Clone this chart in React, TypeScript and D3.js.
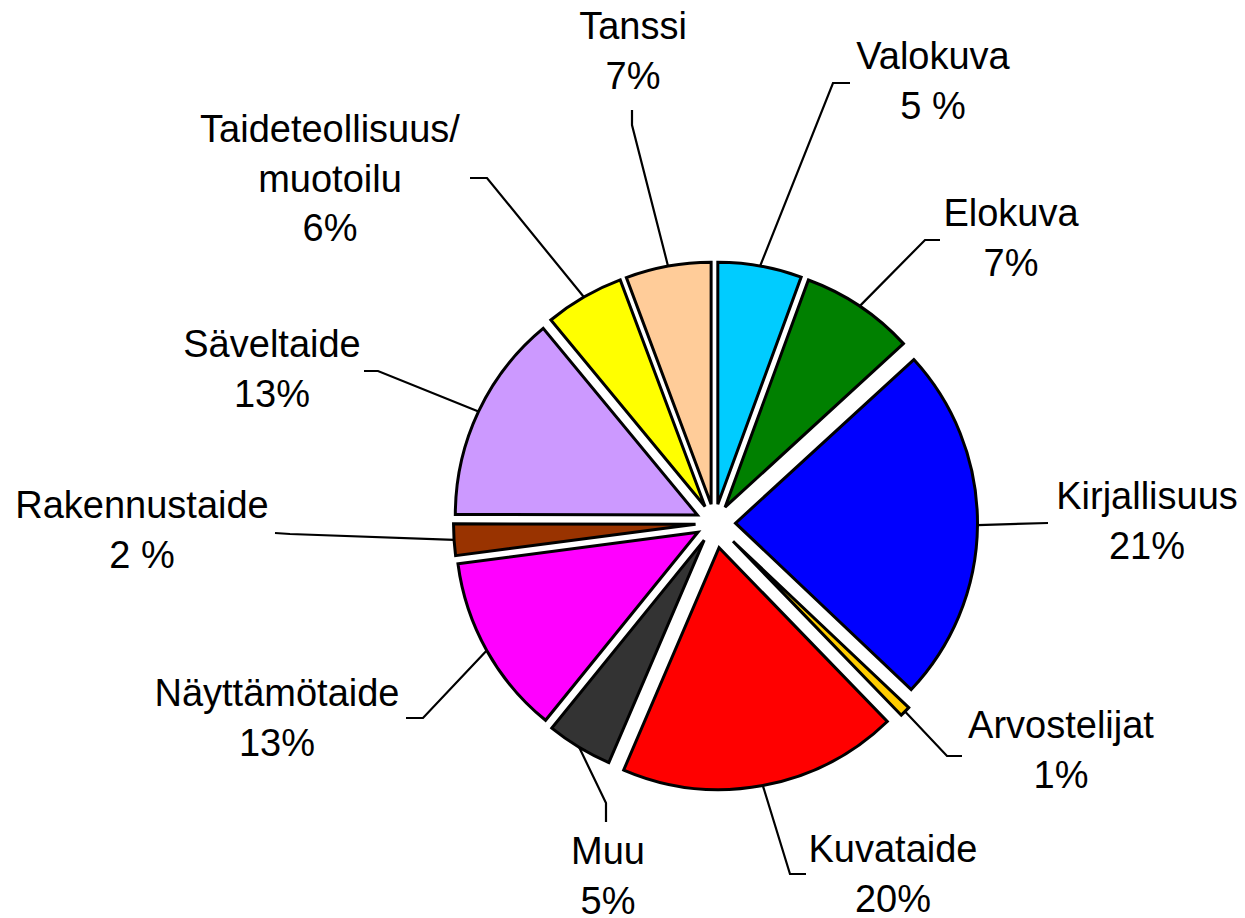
import React from 'react';
import * as d3 from 'd3';

// Data (clockwise from 12 o'clock)
const categories = [
  'Valokuva',
  'Elokuva',
  'Kirjallisuus',
  'Arvostelijat',
  'Kuvataide',
  'Muu',
  'Näyttämötaide',
  'Rakennustaide',
  'Säveltaide',
  'Taideteollisuus/|muotoilu',
  'Tanssi',
];
// shares as drawn (slice angles, percent of the full circle)
const shares = [5.6, 7.6, 23.9, 0.7, 18.7, 4.4, 12.1, 2.1, 14.0, 5.3, 5.7];
// percent texts as printed on the chart
const percentLabels = ['5 %', '7%', '21%', '1%', '20%', '5%', '13%', '2 %', '13%', '6%', '7%'];
const colors = [
  '#00CCFF',
  '#008000',
  '#0000FF',
  '#FFCC00',
  '#FF0000',
  '#333333',
  '#FF00FF',
  '#993300',
  '#CC99FF',
  '#FFFF00',
  '#FFCC99',
];

// Layout
const W = 1245;
const H = 918;
const CX = 714.5;
const CY = 523;
const R = 242;
const explode = [19, 19, 21, 26, 25, 20, 19, 19, 19, 19, 19];
const FONT = 38;
const LINE = 49.5;
// label text position (centre x, first baseline y), leader elbow and end
const labelLayout: { x: number; y: number; elbow: [number, number]; end: [number, number] }[] = [
  { x: 933, y: 69, elbow: [833, 83], end: [850, 83] },
  { x: 1011, y: 226, elbow: [925, 240], end: [940, 240] },
  { x: 1147, y: 509, elbow: [1048, 523], end: [1048, 523] },
  { x: 1061, y: 738, elbow: [947, 756], end: [962, 756] },
  { x: 893, y: 862, elbow: [790, 874], end: [806, 874] },
  { x: 608, y: 864, elbow: [606, 803], end: [606, 822] },
  { x: 277, y: 706, elbow: [423, 718], end: [406, 718] },
  { x: 142, y: 518, elbow: [290, 534], end: [275, 533] },
  { x: 272, y: 357, elbow: [378, 371], end: [364, 371] },
  { x: 330, y: 142, elbow: [487, 178], end: [470, 178] },
  { x: 633, y: 39, elbow: [632, 125], end: [632, 110] },
];

export default function App() {
  const pie = d3
    .pie<number>()
    .value((d) => d)
    .sort(null)
    .startAngle(0)
    .endAngle(2 * Math.PI);
  const arcs = pie(shares);
  const arcGen = d3.arc<d3.PieArcDatum<number>>().innerRadius(0).outerRadius(R);
  const line = d3.line();

  return (
    <svg
      width={W}
      height={H}
      viewBox={`0 0 ${W} ${H}`}
      style={{ position: 'absolute', left: 0, top: 0, background: '#fff' }}
      fontFamily="'Liberation Sans', Arial, sans-serif"
    >
      <rect x={0} y={0} width={W} height={H} fill="#fff" />
      {arcs.map((a, i) => {
        const mid = (a.startAngle + a.endAngle) / 2;
        const dx = explode[i] * Math.sin(mid);
        const dy = -explode[i] * Math.cos(mid);
        return (
          <path
            key={'s' + i}
            d={arcGen(a) || ''}
            transform={`translate(${CX + dx},${CY + dy})`}
            fill={colors[i]}
            stroke="#000"
            strokeWidth={3}
            strokeLinejoin="miter"
          />
        );
      })}
      {arcs.map((a, i) => {
        const mid = (a.startAngle + a.endAngle) / 2;
        const rr = R + explode[i];
        const sx = CX + rr * Math.sin(mid);
        const sy = CY - rr * Math.cos(mid);
        const L = labelLayout[i];
        const pts: [number, number][] = [[sx, sy], L.elbow, L.end];
        return (
          <path
            key={'l' + i}
            d={line(pts) || ''}
            fill="none"
            stroke="#000"
            strokeWidth={2.2}
          />
        );
      })}
      {categories.map((c, i) => {
        const L = labelLayout[i];
        const lines = [...c.split('|'), percentLabels[i]];
        return (
          <text
            key={'t' + i}
            x={L.x}
            y={L.y}
            textAnchor="middle"
            fontSize={FONT}
            fill="#000"
          >
            {lines.map((t, j) => (
              <tspan key={j} x={L.x} y={L.y + j * LINE}>
                {t}
              </tspan>
            ))}
          </text>
        );
      })}
    </svg>
  );
}
